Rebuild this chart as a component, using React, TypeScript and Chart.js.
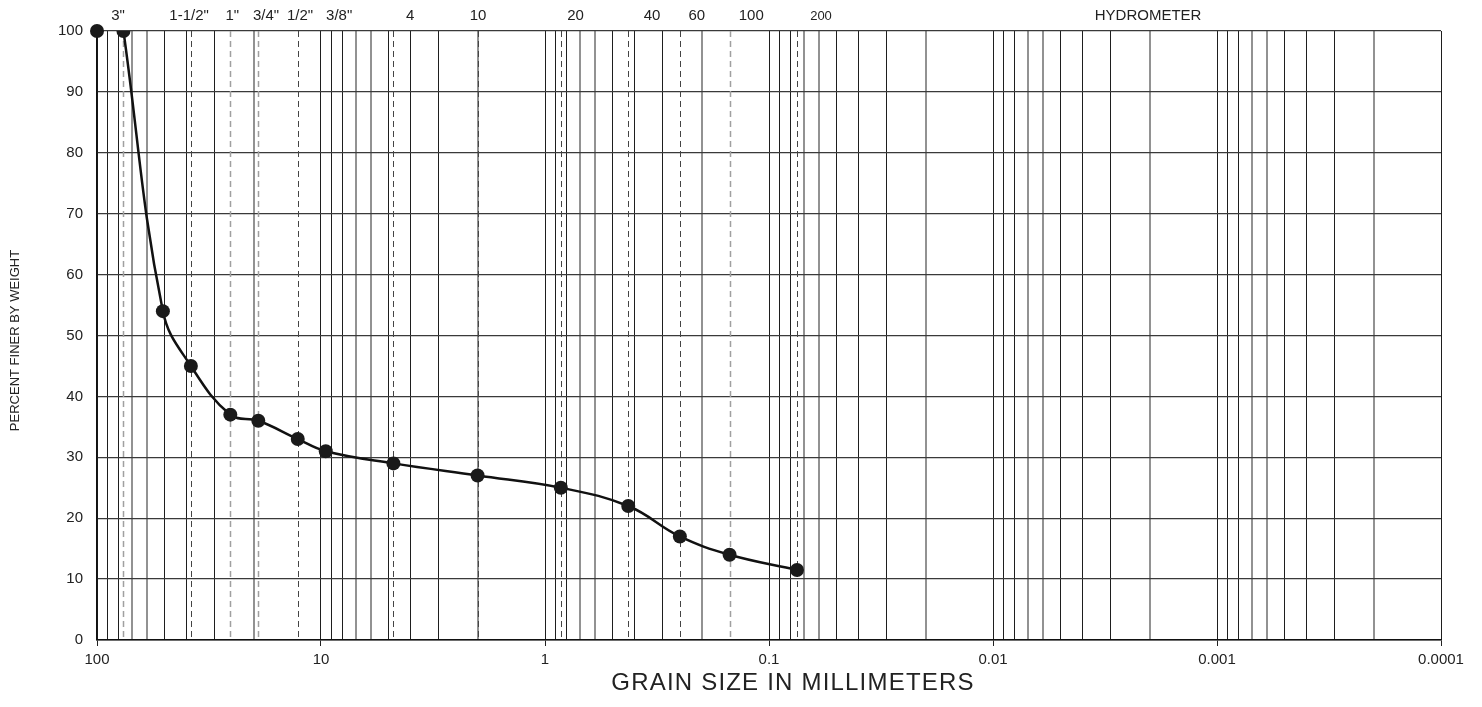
import { useEffect, useRef } from 'react';
import { Chart, registerables } from 'chart.js';

Chart.register(...registerables);

// ---- data ----
const grainSizeMm = [76.2, 50.8, 38.1, 25.4, 19.05, 12.7, 9.525, 4.75, 2.0, 0.85, 0.425, 0.25, 0.15, 0.075];
const percentFiner = [100, 54, 45, 37, 36, 33, 31, 29, 27, 25, 22, 17, 14, 11.5];
const maxSizeMm = [100];
const maxSizePercent = [100];

const decadeTicks = [100, 10, 1, 0.1, 0.01, 0.001, 0.0001];
const decadeTickLabels = ['100', '10', '1', '0.1', '0.01', '0.001', '0.0001'];
const minorMultipliers = [2, 3, 4, 5, 6, 7, 8, 9];
const grayMultipliers = [2, 6, 7];
const yTicks = [0, 10, 20, 30, 40, 50, 60, 70, 80, 90, 100];

const sieveLineSizes = [76.2, 38.1, 25.4, 19.05, 12.7, 4.75, 2.0, 0.85, 0.425, 0.25, 0.15, 0.075];
const sieveLineLight = [true, false, true, true, false, false, false, false, false, false, true, false];

const sieveLabels = ['3"', '1-1/2"', '1"', '3/4"', '1/2"', '3/8"', '4', '10', '20', '40', '60', '100', '200', 'HYDROMETER'];
const sieveLabelAt = [80.6, 38.8, 24.9, 17.6, 12.4, 8.3, 4.0, 1.99, 0.73, 0.333, 0.21, 0.12, 0.0586, 0.00203];
const sieveLabelSmall = [false, false, false, false, false, false, false, false, false, false, false, false, true, false];

const xTitle = 'GRAIN SIZE IN MILLIMETERS';
const yTitle = 'PERCENT FINER BY WEIGHT';

const FONT = '"Liberation Sans", Arial, Helvetica, sans-serif';

function mult(v: number) {
  const e = Math.floor(Math.log10(v) + 1e-9);
  return Math.round(v / Math.pow(10, e));
}

const allXTicks: number[] = [];
for (let i = decadeTicks.length - 1; i >= 0; i--) {
  const d = decadeTicks[i];
  allXTicks.push(d);
  if (d < 100) {
    for (const m of minorMultipliers) allXTicks.push(+(d * m).toPrecision(6));
  }
}

const overlayPlugin = {
  id: 'gsdOverlay',
  beforeDatasetsDraw(chart: any) {
    const { ctx, chartArea, scales } = chart;
    const x = scales.x;
    ctx.save();
    sieveLineSizes.forEach((s, i) => {
      const px = Math.round(x.getPixelForValue(s)) + 0.5;
      ctx.beginPath();
      ctx.setLineDash([6, 4]);
      ctx.lineWidth = sieveLineLight[i] ? 1.5 : 1;
      ctx.strokeStyle = sieveLineLight[i] ? '#a0a0a0' : '#444';
      ctx.moveTo(px, chartArea.top);
      ctx.lineTo(px, chartArea.bottom);
      ctx.stroke();
    });
    ctx.restore();
  },
  afterDraw(chart: any) {
    const { ctx, chartArea, scales } = chart;
    const x = scales.x;
    ctx.save();
    ctx.fillStyle = '#222';
    ctx.textAlign = 'center';
    ctx.textBaseline = 'middle';
    sieveLabels.forEach((lab, i) => {
      ctx.font = `${sieveLabelSmall[i] ? 13 : 15}px ${FONT}`;
      ctx.fillText(lab, x.getPixelForValue(sieveLabelAt[i]), 16);
    });
    // x title
    ctx.font = `24px ${FONT}`;
    (ctx as any).letterSpacing = '1.2px';
    ctx.fillText(xTitle, (chartArea.left + chartArea.right) / 2 + 24, 683);
    (ctx as any).letterSpacing = '0px';
    // y title
    ctx.translate(15, (chartArea.top + chartArea.bottom) / 2 + 5);
    ctx.rotate(-Math.PI / 2);
    ctx.font = `13px ${FONT}`;
    ctx.fillText(yTitle, 0, 0);
    ctx.restore();
  },
};

export default function App() {
  const ref = useRef<HTMLCanvasElement | null>(null);
  useEffect(() => {
    if (!ref.current) return;
    const chart = new Chart(ref.current, {
      type: 'line',
      data: {
        datasets: [
          {
            data: grainSizeMm.map((g, i) => ({ x: g, y: percentFiner[i] })),
            borderColor: '#111',
            borderWidth: 2.5,
            tension: 0.4,
            pointRadius: 7,
            pointBackgroundColor: '#1a1a1a',
            pointBorderWidth: 0,
            fill: false,
          },
          {
            data: maxSizeMm.map((g, i) => ({ x: g, y: maxSizePercent[i] })),
            showLine: false,
            pointRadius: 7,
            pointBackgroundColor: '#1a1a1a',
            pointBorderWidth: 0,
            clip: false as any,
          },
        ],
      },
      options: {
        animation: false,
        responsive: false,
        layout: { padding: { top: 31, right: 41, bottom: 0, left: 0 } },
        plugins: { legend: { display: false }, tooltip: { enabled: false }, title: { display: false } },
        elements: { line: { capBezierPoints: true } },
        scales: {
          x: {
            type: 'logarithmic',
            reverse: true,
            min: 0.0001,
            max: 100,
            afterBuildTicks: (scale: any) => {
              scale.ticks = allXTicks.map((v) => ({ value: v }));
            },
            afterFit: (scale: any) => {
              scale.height = 67;
            },
            ticks: {
              autoSkip: false,
              maxRotation: 0,
              minRotation: 0,
              padding: 5,
              color: '#222',
              font: { family: FONT, size: 15 },
              callback: (v: any) => {
                const idx = decadeTicks.findIndex((d) => Math.abs(d - v) / d < 1e-6);
                return idx >= 0 ? decadeTickLabels[idx] : '';
              },
            },
            grid: {
              drawTicks: true,
              tickLength: 6,
              tickWidth: 1,
              tickColor: (c: any) => (c.tick && mult(c.tick.value) === 1 ? '#222' : 'rgba(0,0,0,0)'),
              color: (c: any) => {
                if (!c.tick) return '#222';
                return grayMultipliers.includes(mult(c.tick.value)) ? '#929292' : '#1e1e1e';
              },
              lineWidth: (c: any) => {
                if (!c.tick) return 1;
                return grayMultipliers.includes(mult(c.tick.value)) ? 2 : 1;
              },
            },
            border: { display: true, color: '#111', width: 1.5 },
          },
          y: {
            type: 'linear',
            min: 0,
            max: 100,
            afterBuildTicks: (scale: any) => {
              scale.ticks = yTicks.map((v) => ({ value: v }));
            },
            afterFit: (scale: any) => {
              scale.width = 97;
            },
            ticks: {
              padding: 14,
              color: '#222',
              font: { family: FONT, size: 15 },
            },
            grid: { drawTicks: false, color: '#3a3a3a', lineWidth: 1.3 },
            border: { display: true, color: '#111', width: 1.5 },
          },
        },
      },
      plugins: [overlayPlugin],
    } as any);
    return () => chart.destroy();
  }, []);
  return (
    <div style={{ position: 'absolute', left: 0, top: 0, width: 1482, height: 707, background: '#fff' }}>
      <canvas ref={ref} width={1482} height={707} style={{ display: 'block' }} />
    </div>
  );
}
